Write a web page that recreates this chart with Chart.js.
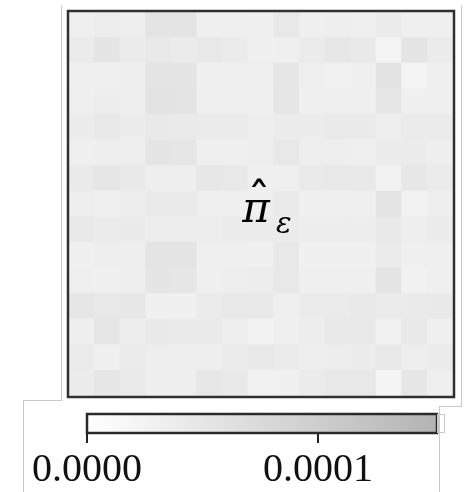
<!DOCTYPE html>
<html>
<head>
<meta charset="utf-8">
<script src="https://cdn.jsdelivr.net/npm/chart.js@4.4.1/dist/chart.umd.min.js"></script>
<style>
  html, body { margin: 0; padding: 0; background: #fff; }
  #page { position: relative; width: 466px; height: 492px; overflow: hidden; }
  canvas { position: absolute; }
  #heatmap { left: 59px; top: 2px; }
  #colorbar { left: 0; top: 400px; }
  .rule { position: absolute; background: #c9c9c9; }
  .stub { position: absolute; border: 1px solid #c9c9c9; box-sizing: border-box; }
</style>
</head>
<body>
<div id="page">
  <!-- panel outlines -->
  <div class="rule" style="left:61px;top:5px;width:1px;height:396px"></div>
  <div class="rule" style="left:23px;top:400px;width:39px;height:1px"></div>
  <div class="rule" style="left:23px;top:400px;width:1px;height:92px"></div>
  <div class="rule" style="left:461px;top:5px;width:1px;height:402px"></div>
  <div class="rule" style="left:439px;top:406px;width:23px;height:1px"></div>
  <div class="rule" style="left:439px;top:406px;width:1px;height:86px"></div>

  <canvas id="heatmap" width="404" height="404"></canvas>
  <canvas id="colorbar" width="466" height="92"></canvas>
  <div class="stub" style="left:437px;top:414px;width:8px;height:19px"></div>
</div>

<script>
// --------------------- Data (cell values in units of 1e-5) ---------------------
const cellValues = [
  [3.2, 3.6, 3.4, 5.5, 5.5, 3.2, 3.2, 3.0, 4.6, 3.2, 3.4, 3.2, 4.0, 3.2, 3.2],
  [4.0, 5.3, 3.8, 4.4, 4.0, 4.6, 4.0, 3.0, 3.2, 4.0, 4.8, 4.4, 2.4, 5.3, 4.0],
  [3.0, 3.0, 3.4, 5.5, 5.3, 3.0, 3.0, 3.2, 5.1, 3.2, 2.8, 3.0, 5.7, 2.4, 3.2],
  [3.2, 3.6, 3.4, 5.7, 5.5, 3.2, 3.2, 3.0, 5.1, 3.0, 3.2, 3.2, 5.1, 3.0, 3.2],
  [3.8, 4.6, 3.8, 4.4, 4.2, 4.0, 4.0, 3.4, 3.8, 3.8, 4.2, 4.2, 3.4, 4.0, 4.0],
  [3.2, 3.4, 3.4, 5.3, 5.1, 3.2, 3.2, 3.4, 4.6, 3.4, 3.4, 3.2, 3.8, 3.8, 3.4],
  [4.2, 5.1, 4.4, 3.4, 3.4, 4.8, 4.6, 3.2, 3.2, 4.2, 4.6, 4.4, 2.6, 4.8, 4.0],
  [3.4, 3.0, 3.6, 4.2, 4.2, 3.2, 3.2, 3.2, 4.2, 3.0, 3.0, 3.0, 5.5, 2.6, 3.4],
  [4.4, 3.8, 4.2, 3.6, 3.6, 3.6, 4.0, 4.0, 4.0, 3.6, 3.6, 3.6, 4.4, 3.4, 3.8],
  [3.0, 3.4, 3.4, 5.5, 5.5, 3.2, 3.2, 3.0, 4.6, 3.0, 3.0, 3.0, 4.0, 3.2, 3.2],
  [3.2, 3.0, 3.4, 5.3, 5.1, 3.2, 3.4, 3.6, 4.6, 3.2, 3.2, 3.2, 5.5, 2.8, 3.2],
  [5.1, 4.4, 4.8, 3.0, 3.0, 4.0, 4.6, 4.4, 3.2, 4.0, 4.0, 4.4, 4.0, 4.2, 4.4],
  [3.4, 5.1, 3.6, 4.4, 4.2, 4.2, 3.4, 2.6, 3.2, 3.6, 4.6, 4.4, 2.8, 4.4, 3.2],
  [4.0, 3.0, 4.0, 3.4, 3.4, 3.4, 4.0, 4.6, 4.0, 3.4, 3.6, 3.8, 4.6, 3.4, 4.0],
  [3.8, 5.1, 4.2, 3.4, 3.4, 4.8, 4.4, 2.8, 3.0, 4.0, 4.6, 4.6, 2.2, 5.1, 3.2]
];
const columns = cellValues[0].map((_, i) => i);

const colorMax = 15.15;             // top of the colour scale (1e-5 units)
const tickValues = [0, 10];
const tickLabels = ["0.0000", "0.0001"];

// white -> gray ramp
function grayFor(v) {
  const g = Math.round(255 - 75 * Math.min(v / colorMax, 1));
  return `rgb(${g},${g},${g})`;
}

// --------------------- Heatmap ---------------------
const framePlugin = {
  id: "frame",
  afterDraw(chart) {
    const { ctx, chartArea: a } = chart;
    ctx.save();
    ctx.strokeStyle = "#303030";
    ctx.lineWidth = 2.5;
    ctx.strokeRect(a.left - 1, a.top - 1, a.right - a.left + 2, a.bottom - a.top + 2);

    // label in the middle of the plan
    const cx = (a.left + a.right) / 2;
    const cy = (a.top + a.bottom) / 2;
    ctx.fillStyle = "#000";
    ctx.textAlign = "center";
    ctx.textBaseline = "alphabetic";
    ctx.font = 'italic 42px "DejaVu Serif"';
    ctx.fillText("π", cx - 5, cy + 18);
    ctx.font = '46px "DejaVu Sans"';
    ctx.fillText("ˆ", cx - 2, cy + 12);
    ctx.textAlign = "left";
    ctx.font = 'italic 29px "DejaVu Serif"';
    ctx.fillText("ε", cx + 15, cy + 29);
    ctx.restore();
  }
};

new Chart(document.getElementById("heatmap"), {
  type: "bar",
  data: {
    labels: columns,
    // first dataset is the bottom row
    datasets: cellValues.slice().reverse().map(row => ({
      data: row.map(() => 1),
      backgroundColor: row.map(grayFor),
      borderWidth: 0,
      barPercentage: 1,
      categoryPercentage: 1,
      inflateAmount: 0.5
    }))
  },
  options: {
    responsive: false,
    animation: false,
    events: [],
    layout: { padding: 10 },
    plugins: { legend: { display: false }, tooltip: { enabled: false } },
    scales: {
      x: { stacked: true, display: false },
      y: { stacked: true, display: false, min: 0, max: cellValues.length }
    }
  },
  plugins: [framePlugin]
});

// --------------------- Colour bar ---------------------
const barFrame = {
  id: "barFrame",
  afterDraw(chart) {
    const { ctx, chartArea: a } = chart;
    ctx.save();
    ctx.strokeStyle = "#2a2a2a";
    ctx.lineWidth = 2.5;
    ctx.strokeRect(a.left, a.top, a.right - a.left, a.bottom - a.top);
    ctx.restore();
  }
};

new Chart(document.getElementById("colorbar"), {
  type: "bar",
  data: {
    labels: [""],
    datasets: [{
      data: [colorMax],
      backgroundColor: (c) => {
        const a = c.chart.chartArea;
        if (!a) return "#ddd";
        const g = c.chart.ctx.createLinearGradient(a.left, 0, a.right, 0);
        g.addColorStop(0, grayFor(0));
        g.addColorStop(1, grayFor(colorMax));
        return g;
      },
      borderWidth: 0,
      barPercentage: 1,
      categoryPercentage: 1
    }]
  },
  options: {
    indexAxis: "y",
    responsive: false,
    animation: false,
    events: [],
    layout: { padding: { left: 87, right: 29, top: 14, bottom: 0 } },
    plugins: { legend: { display: false }, tooltip: { enabled: false } },
    scales: {
      y: { display: false },
      x: {
        min: 0,
        max: colorMax,
        afterBuildTicks: (scale) => { scale.ticks = tickValues.map(v => ({ value: v })); },
        afterFit: (scale) => { scale.height = 59; },
        border: { display: false },
        grid: { drawOnChartArea: false, drawTicks: true, tickLength: 10, color: "#222", lineWidth: 2 },
        ticks: {
          autoSkip: false,
          maxRotation: 0,
          padding: 3,
          color: "#111",
          font: { family: "Liberation Serif", size: 40 },
          callback: (val, i) => tickLabels[i]
        }
      }
    }
  },
  plugins: [barFrame]
});
</script>
</body>
</html>
